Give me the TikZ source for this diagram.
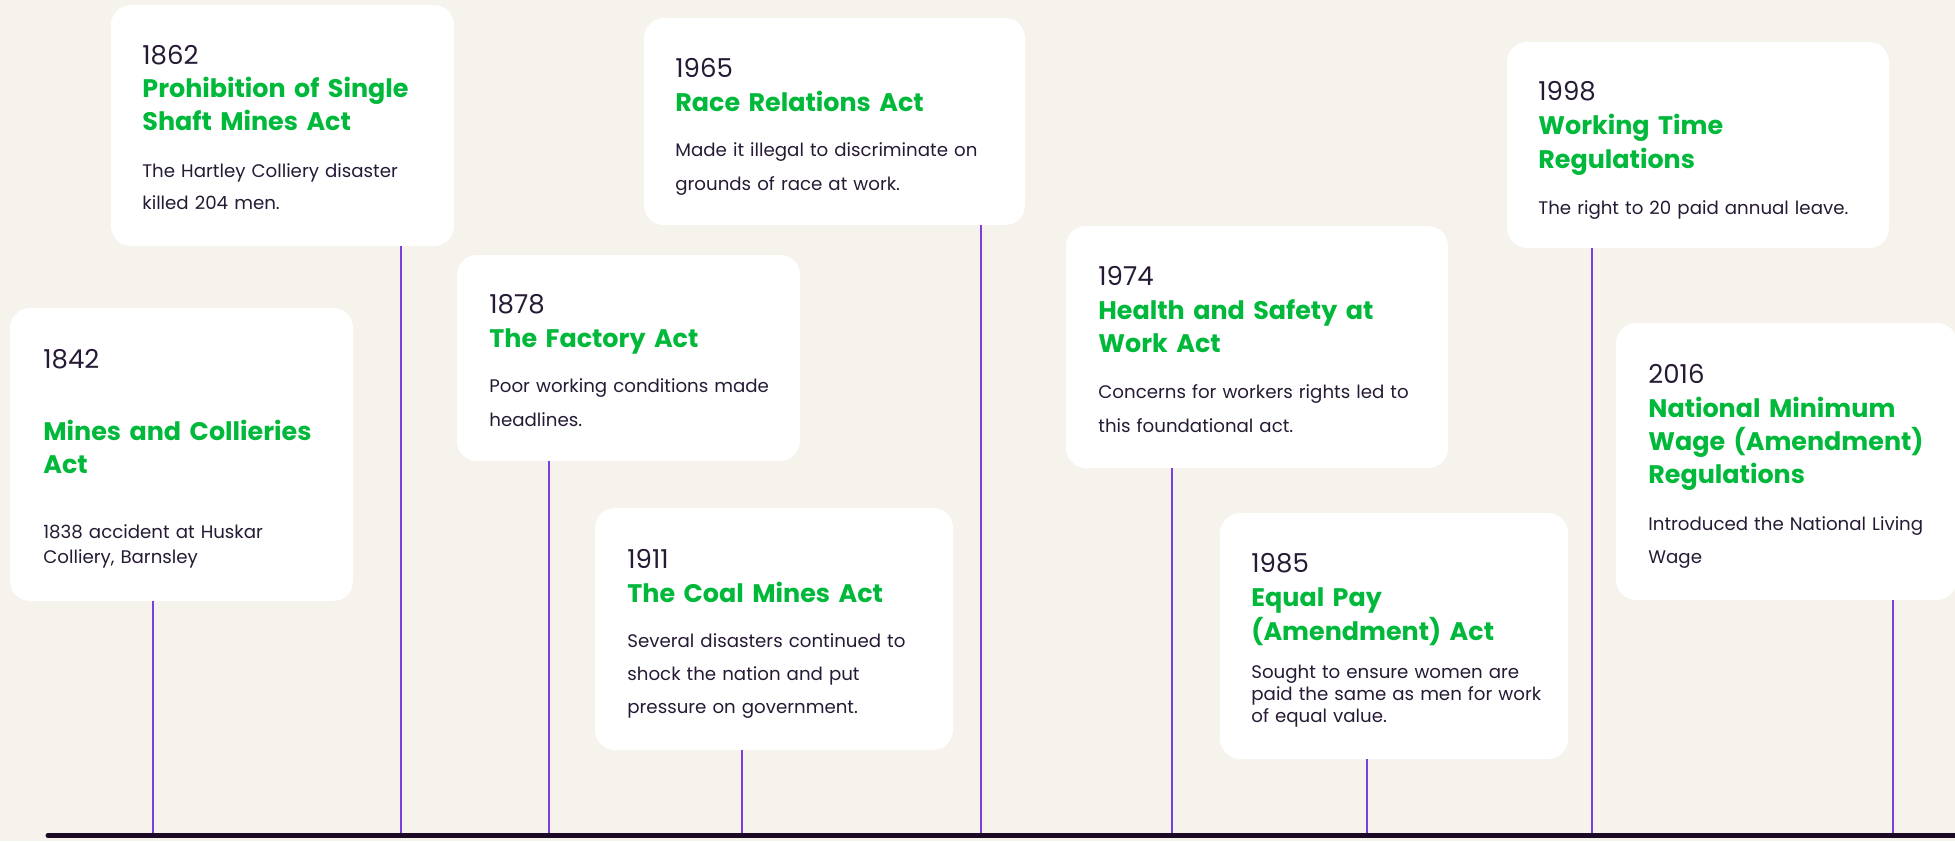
\documentclass[tikz,border=0pt]{standalone}
\usepackage{fontspec}
\setmainfont{Poppins}
\usepackage{tikz}
\usetikzlibrary{fit}
\definecolor{paper}{HTML}{F6F3ED}
\definecolor{inkdark}{HTML}{261A35}
\definecolor{actgreen}{HTML}{00B83A}
\definecolor{stemviolet}{HTML}{7B3FE0}
\definecolor{axisdark}{HTML}{1B0A26}

\begin{document}
\begin{tikzpicture}[x=0.5pt,y=-0.5pt,
    card/.style={fill=white, rounded corners=10pt, inner sep=0pt},
    yearlbl/.style={anchor=base west, inner sep=0pt, text width=220pt, align=left, text=inkdark, font=\fontsize{13}{16}\selectfont},
    actlbl/.style={anchor=base west, inner sep=0pt, text width=220pt, align=left, text=actgreen, font=\bfseries\fontsize{12.7}{16.7}\selectfont},
    notelbl/.style={anchor=base west, inner sep=0pt, text width=220pt, align=left, text=inkdark, font=\fontsize{9.1}{16.5}\selectfont},
    stem/.style={draw=stemviolet, line width=1pt},
    timeaxis/.style={draw=axisdark, line width=2.5pt, line cap=round}]
  \path[use as bounding box, fill=paper] (0,0) rectangle (1955,841);

  % ticks on the axis
  \coordinate (t1842) at (153,835);
  \coordinate (t1862) at (401,835);
  \coordinate (t1878) at (549,835);
  \coordinate (t1911) at (742,835);
  \coordinate (t1965) at (981,835);
  \coordinate (t1974) at (1172,835);
  \coordinate (t1985) at (1367,835);
  \coordinate (t1998) at (1592,835);
  \coordinate (t2016) at (1893,835);

  % cards
  \node[card, fit={(10,308) (353,601)}] (c1842) {};
  \node[card, fit={(111,5) (454,246)}] (c1862) {};
  \node[card, fit={(457,255) (800,461)}] (c1878) {};
  \node[card, fit={(595,508) (953,750)}] (c1911) {};
  \node[card, fit={(644,18) (1025,225)}] (c1965) {};
  \node[card, fit={(1066,226) (1448,468)}] (c1974) {};
  \node[card, fit={(1220,513) (1568,759)}] (c1985) {};
  \node[card, fit={(1507,42) (1889,248)}] (c1998) {};
  \node[card, fit={(1616,323) (1957,600)}] (c2016) {};

  \foreach \yr in {1842,1862,1878,1911,1965,1974,1985,1998,2016}
    \draw[stem] (t\yr |- c\yr.south) -- (t\yr);

  \node[yearlbl] (y1842) at (43,368) {1842};
  \node[actlbl] (a1842) at (43,440) {Mines and Collieries\\Act};
  \node[notelbl, font=\fontsize{9.1}{12.5}\selectfont] (n1842) at (43,538) {1838 accident at Huskar\\Colliery, Barnsley};

  \node[yearlbl] (y1862) at (142,64) {1862};
  \node[actlbl] (a1862) at (142,97) {Prohibition of Single\\Shaft Mines Act};
  \node[notelbl, font=\fontsize{9.1}{16}\selectfont] (n1862) at (142,177) {The Hartley Colliery disaster\\killed 204 men.};

  \node[yearlbl] (y1878) at (489,313) {1878};
  \node[actlbl] (a1878) at (489,347) {The Factory Act};
  \node[notelbl, font=\fontsize{9.1}{17}\selectfont] (n1878) at (489,392) {Poor working conditions made\\headlines.};

  \node[yearlbl] (y1911) at (627,568) {1911};
  \node[actlbl] (a1911) at (627,602) {The Coal Mines Act};
  \node[notelbl] (n1911) at (627,647) {Several disasters continued to\\shock the nation and put\\pressure on government.};

  \node[yearlbl] (y1965) at (675,77) {1965};
  \node[actlbl] (a1965) at (675,111) {Race Relations Act};
  \node[notelbl, font=\fontsize{9.1}{17}\selectfont] (n1965) at (675,156) {Made it illegal to discriminate on\\grounds of race at work.};

  \node[yearlbl] (y1974) at (1098,285) {1974};
  \node[actlbl] (a1974) at (1098,319) {Health and Safety at\\Work Act};
  \node[notelbl, font=\fontsize{9.1}{17}\selectfont] (n1974) at (1098,398) {Concerns for workers rights led to\\this foundational act.};

  \node[yearlbl] (y1985) at (1251,572) {1985};
  \node[actlbl, font=\bfseries\fontsize{12.7}{17}\selectfont] (a1985) at (1251,606) {Equal Pay\\(Amendment) Act};
  \node[notelbl, font=\fontsize{9.1}{11}\selectfont] (n1985) at (1251,678) {Sought to ensure women are\\paid the same as men for work\\of equal value.};

  \node[yearlbl] (y1998) at (1538,100) {1998};
  \node[actlbl, font=\bfseries\fontsize{12.7}{17}\selectfont] (a1998) at (1538,134) {Working Time\\Regulations};
  \node[notelbl] (n1998) at (1538,214) {The right to 20 paid annual leave.};

  \node[yearlbl] (y2016) at (1648,383) {2016};
  \node[actlbl] (a2016) at (1648,417) {National Minimum\\Wage (Amendment)\\Regulations};
  \node[notelbl] (n2016) at (1648,530) {Introduced the National Living\\Wage};

  \coordinate (axL) at (48,835.5);
  \coordinate (axR) at (1960,835.5);
  \draw[timeaxis] (axL) -- (axR);
\end{tikzpicture}
\end{document}
